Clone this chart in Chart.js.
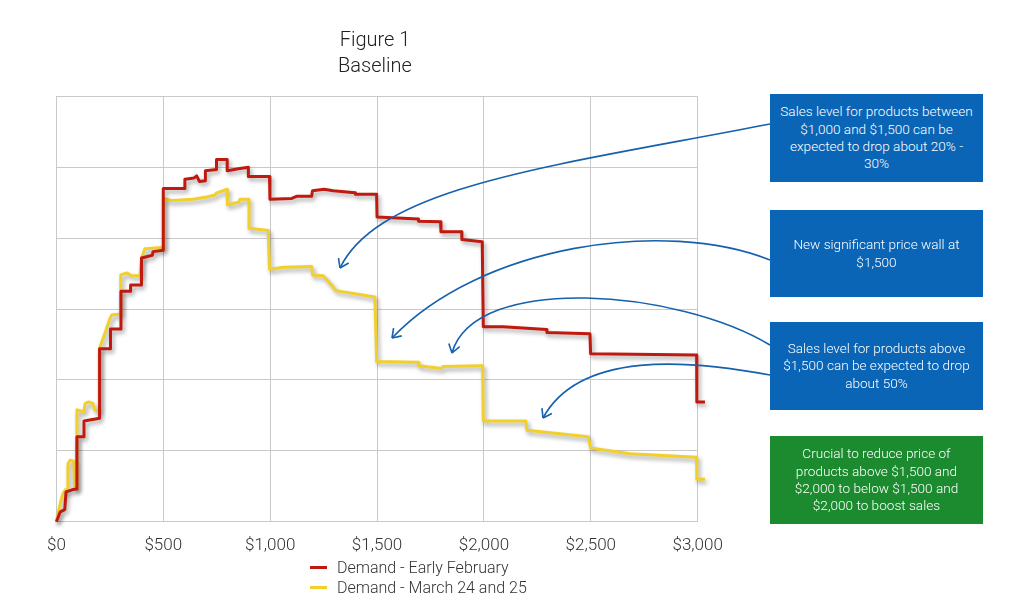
<!DOCTYPE html>
<html>
<head>
<meta charset="utf-8">
<script src="https://cdn.jsdelivr.net/npm/chart.js@4.4.1/dist/chart.umd.min.js"></script>
<style>
  body { margin: 0; background: #fff; font-family: Roboto, "Liberation Sans", sans-serif; }
  #wrap { position: relative; width: 1024px; height: 614px; }
  #title { position: absolute; left: 275px; top: 26px; width: 200px; text-align: center;
           font-size: 20px; font-weight: 300; line-height: 26px; color: #222; }
  .note { position: absolute; left: 770px; width: 213px; display: flex; align-items: center;
          justify-content: center; text-align: center; color: #fff; font-size: 13.6px;
          font-weight: 300; line-height: 17.3px; }
  .blue { background: #0b65b6; }
  .green { background: #1c8b2f; }
  #legend { position: absolute; left: 310px; top: 558px; font-size: 16px; font-weight: 300; color: #333; }
  #legend div { height: 20px; line-height: 20px; }
  #legend span { display: inline-block; width: 17px; height: 3px; vertical-align: middle; margin-right: 10px; margin-top: -2px; }
</style>
</head>
<body>
<div id="wrap">
  <canvas id="demandChart"></canvas>
  <div id="title">Figure 1<br>Baseline</div>
  <div class="note blue" style="top:94px;height:88px">Sales level for products between<br>$1,000 and $1,500 can be<br>expected to drop about 20% -<br>30%</div>
  <div class="note blue" style="top:210px;height:87px">New significant price wall at<br>$1,500</div>
  <div class="note blue" style="top:322px;height:88px">Sales level for products above<br>$1,500 can be expected to drop<br>about 50%</div>
  <div class="note green" style="top:436px;height:88px">Crucial to reduce price of<br>products above $1,500 and<br>$2,000 to below $1,500 and<br>$2,000 to boost sales</div>
  <div id="legend"></div>
</div>
<script>
const seriesNames = ['Demand - Early February', 'Demand - March 24 and 25']
const seriesColors = ['#c0190f', '#f1d02c']
const xTicks = [0, 500, 1000, 1500, 2000, 2500, 3000]

// Early February
const febPrice = [0, 18, 39, 45, 73, 94, 96, 128, 129, 202, 202, 251, 253, 302, 302, 347, 347, 398, 398, 449, 452, 500,
    500, 599, 601, 644, 656, 669, 697, 697, 749, 749, 799, 799, 851, 898, 898, 997, 999, 1101, 1123, 1194, 1198, 1252,
    1295, 1397, 1399, 1498, 1500, 1693, 1694, 1797, 1799, 1896, 1897, 1992, 1997, 2090, 2293, 2295, 2496, 2499, 2995,
    2996, 3034]
const febLevel = [0, 0.14, 0.17, 0.42, 0.45, 0.46, 1.20, 1.20, 1.42, 1.46, 2.44, 2.44, 2.72, 2.72, 3.25, 3.25, 3.34, 3.34,
    3.72, 3.76, 3.81, 3.83, 4.70, 4.70, 4.83, 4.85, 4.88, 4.80, 4.81, 4.95, 4.97, 5.11, 5.11, 4.95, 4.98, 5.00, 4.87, 4.87,
    4.55, 4.56, 4.59, 4.59, 4.67, 4.69, 4.67, 4.64, 4.62, 4.62, 4.30, 4.27, 4.24, 4.23, 4.09, 4.09, 3.98, 3.95, 2.75, 2.75,
    2.71, 2.67, 2.65, 2.37, 2.35, 1.69, 1.69]

// March 24 and 25
const marPrice = [0, 18, 31, 42, 52, 54, 65, 81, 86, 94, 96, 128, 135, 151, 170, 179, 201, 202, 227, 251, 260, 300, 301,
    329, 352, 391, 400, 414, 499, 501, 539, 640, 703, 742, 750, 789, 799, 800, 855, 859, 901, 901, 991, 997, 1061, 1194,
    1199, 1248, 1295, 1308, 1490, 1498, 1693, 1696, 1802, 1808, 1981, 1994, 1997, 2196, 2201, 2488, 2499, 2683, 2995,
    2996, 3034]
const marLevel = [0, 0.26, 0.40, 0.45, 0.45, 0.82, 0.87, 0.85, 0.47, 0.46, 1.58, 1.55, 1.67, 1.69, 1.67, 1.58, 1.55, 2.45,
    2.66, 2.87, 2.92, 2.93, 3.48, 3.51, 3.47, 3.47, 3.73, 3.85, 3.87, 4.56, 4.53, 4.55, 4.58, 4.61, 4.64, 4.68, 4.69, 4.47,
    4.51, 4.55, 4.55, 4.14, 4.11, 3.56, 3.59, 3.60, 3.48, 3.47, 3.31, 3.26, 3.17, 2.26, 2.25, 2.20, 2.16, 2.19, 2.20, 2.20,
    1.42, 1.42, 1.29, 1.20, 1.04, 0.96, 0.91, 0.60, 0.60]

function toPoints(xs, ys) {
    return xs.map((x, i) => ({ x: x, y: ys[i] }))
}

// callout arrows, in page pixels: start, control 1, control 2, tip
const arrows = [
    [[770, 124], [560, 165], [380, 185], [340, 268]],
    [[770, 260], [665, 218], [480, 245], [392, 338]],
    [[770, 345], [680, 290], [475, 272], [452, 353]],
    [[770, 375], [690, 360], [580, 350], [543, 418]]
]

const lineShadow = {
    id: 'lineShadow',
    beforeDatasetsDraw(chart) {
        const ctx = chart.ctx
        ctx.save()
        ctx.shadowColor = 'rgba(0,0,0,0.35)'
        ctx.shadowBlur = 4
        ctx.shadowOffsetX = 2
        ctx.shadowOffsetY = 3
    },
    afterDatasetsDraw(chart) {
        chart.ctx.restore()
    }
}

const calloutArrows = {
    id: 'calloutArrows',
    afterDraw(chart) {
        const ctx = chart.ctx
        ctx.save()
        ctx.strokeStyle = '#1660ad'
        ctx.lineWidth = 1.6
        arrows.forEach(a => {
            ctx.beginPath()
            ctx.moveTo(a[0][0], a[0][1])
            ctx.bezierCurveTo(a[1][0], a[1][1], a[2][0], a[2][1], a[3][0], a[3][1])
            ctx.stroke()
            const ang = Math.atan2(a[3][1] - a[2][1], a[3][0] - a[2][0])
            ctx.beginPath()
            for (const s of [-1, 1]) {
                ctx.moveTo(a[3][0], a[3][1])
                ctx.lineTo(a[3][0] - 10 * Math.cos(ang + s * 0.6), a[3][1] - 10 * Math.sin(ang + s * 0.6))
            }
            ctx.stroke()
        })
        ctx.restore()
    }
}

const gridColor = '#c9c9c9'

new Chart(document.getElementById('demandChart'), {
    type: 'line',
    data: {
        datasets: [{
            label: seriesNames[0],
            data: toPoints(febPrice, febLevel),
            borderColor: seriesColors[0],
            borderWidth: 3,
            borderJoinStyle: 'round',
            pointRadius: 0,
            tension: 0,
            clip: false
        }, {
            label: seriesNames[1],
            data: toPoints(marPrice, marLevel),
            borderColor: seriesColors[1],
            borderWidth: 3,
            borderJoinStyle: 'round',
            pointRadius: 0,
            tension: 0,
            clip: false
        }]
    },
    options: {
        responsive: true,
        maintainAspectRatio: false,
        animation: false,
        layout: { padding: { left: 56.4, right: 326.3, top: 96.4, bottom: 0 } },
        plugins: { legend: { display: false }, tooltip: { enabled: false } },
        scales: {
            x: {
                type: 'linear',
                min: 0,
                max: 3000,
                afterBuildTicks: s => { s.ticks = xTicks.map(v => ({ value: v })) },
                afterFit: s => { s.height = 92.3 },
                grid: { color: gridColor, drawTicks: false },
                border: { color: gridColor },
                ticks: {
                    padding: 14,
                    color: '#333',
                    font: { family: 'Roboto', size: 17, weight: 300 },
                    callback: v => '$' + v.toLocaleString('en-US')
                }
            },
            y: {
                min: 0,
                max: 6,
                afterFit: s => { s.width = 0 },
                grid: { color: gridColor, drawTicks: false },
                border: { display: false },
                ticks: { display: false, stepSize: 1 }
            }
        }
    },
    plugins: [lineShadow, calloutArrows]
})

document.getElementById('legend').innerHTML = seriesNames.map((n, i) =>
    '<div><span style="background:' + seriesColors[i] + '"></span>' + n + '</div>').join('')
</script>
</body>
</html>
